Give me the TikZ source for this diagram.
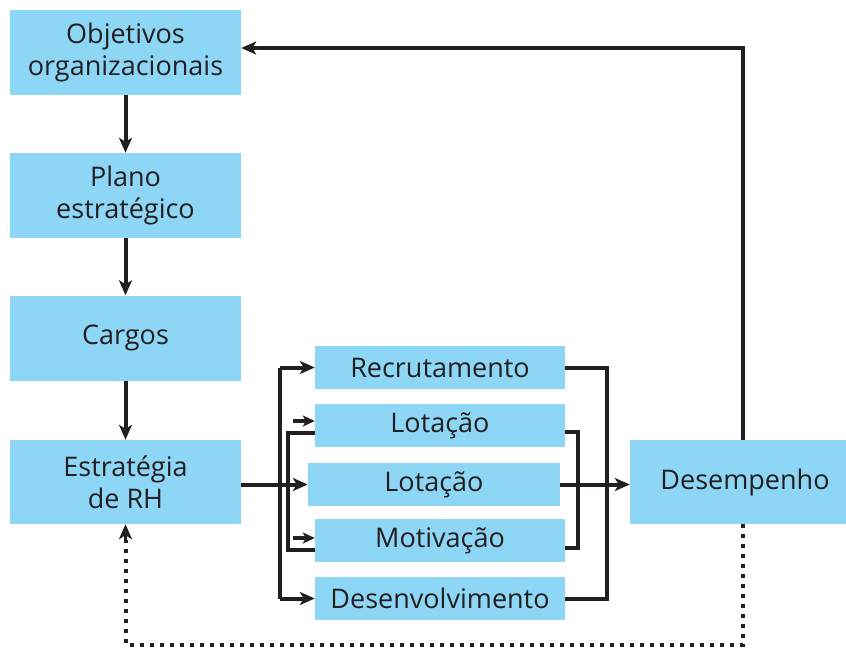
\documentclass[tikz,border=0pt]{standalone}
\usepackage{fontspec}
\setmainfont{Open Sans}
\usetikzlibrary{arrows.meta}
\definecolor{boxblue}{RGB}{141,214,245}
\definecolor{ink}{RGB}{35,31,32}
\tikzset{
  box/.style={fill=boxblue, draw=none, inner sep=0pt, align=center, text=ink,
    font=\fontsize{27}{32}\selectfont},
  conn/.style={draw=ink, line width=4pt},
  arr/.style={conn, -{Stealth[length=15pt,width=13pt,inset=4pt]}},
  dotline/.style={draw=ink, line width=4pt, dash pattern=on 4pt off 6pt},
}
\begin{document}
\begin{tikzpicture}[x=1pt,y=-1pt]
\useasboundingbox (0,0) rectangle (846,649);
% left column
\node[box, minimum width=231pt, minimum height=85pt] (obj) at (125.5,52.5) {Objetivos\\organizacionais};
\node[box, minimum width=231pt, minimum height=85pt] (plano) at (125.5,195.5) {Plano\\estratégico};
\node[box, minimum width=231pt, minimum height=85pt] (cargos) at (125.5,338) {Cargos};
\node[box, minimum width=231pt, minimum height=84pt] (estr) at (125.5,482) {Estratégia\\de RH};
% middle column
\node[box, minimum width=250pt, minimum height=43pt] (rec) at (440,367.5) {Recrutamento};
\node[box, minimum width=250pt, minimum height=43pt] (lot1) at (440,425.5) {Lotação};
\node[box, minimum width=252pt, minimum height=43pt] (lot2) at (434,484.5) {Lotação};
\node[box, minimum width=250pt, minimum height=43pt] (mot) at (440,540.5) {Motivação};
\node[box, minimum width=250pt, minimum height=43pt] (des) at (440,598.5) {Desenvolvimento};
% right (box runs past the right edge of the picture)
\node[box, minimum width=230pt, minimum height=84pt] (desemp) at (745,482) {Desempenho};
% coordinates
\coordinate (fbtop) at (743,48);
\coordinate (dotbot) at (743,645);
% left column arrows
\draw[arr] (obj.south) -- (plano.north);
\draw[arr] (plano.south) -- (cargos.north);
\draw[arr] (cargos.south) -- (estr.north);
% main line
\draw[arr] (estr.east |- lot2.west) -- (lot2.west);
% outer left bus
\coordinate (ob) at (280,367.5);
\draw[conn] (ob |- rec.west) -- (ob |- des.west);
\draw[arr] (ob |- rec.west) -- (rec.west);
\draw[arr] (ob |- des.west) -- (des.west);
% inner left bracket
\coordinate (ib) at (288,433);
\draw[conn] (lot1.west |- ib) -- (ib) -- (288,550) -- (mot.west |- 0,550);
\draw[conn, -{Stealth[length=12pt,width=11pt,inset=3pt]}] (293,421) -- (lot1.west |- 0,421);
\draw[conn, -{Stealth[length=12pt,width=11pt,inset=3pt]}] (293,538) -- (mot.west |- 0,538);
% right outer bracket
\draw[conn] (rec.east) -- (607,367.5) -- (607,598.5) -- (des.east);
% right inner bracket
\draw[conn] (lot1.east |- 0,432) -- (578,432) -- (578,548) -- (mot.east |- 0,548);
% to Desempenho
\draw[arr] (lot2.east) -- (desemp.west |- lot2.east);
% feedback top
\draw[arr] (desemp.north -| fbtop) -- (fbtop) -- (obj.east |- fbtop);
% dotted feedback
\draw[dotline] (desemp.south -| dotbot) -- (dotbot) -- (estr.south |- dotbot) -- ([yshift=-16pt]estr.south);
\draw[ink, line width=3pt, -{Stealth[length=15pt,width=13pt,inset=4pt]}] ([yshift=-17pt]estr.south) -- (estr.south);
\end{tikzpicture}
\end{document}
